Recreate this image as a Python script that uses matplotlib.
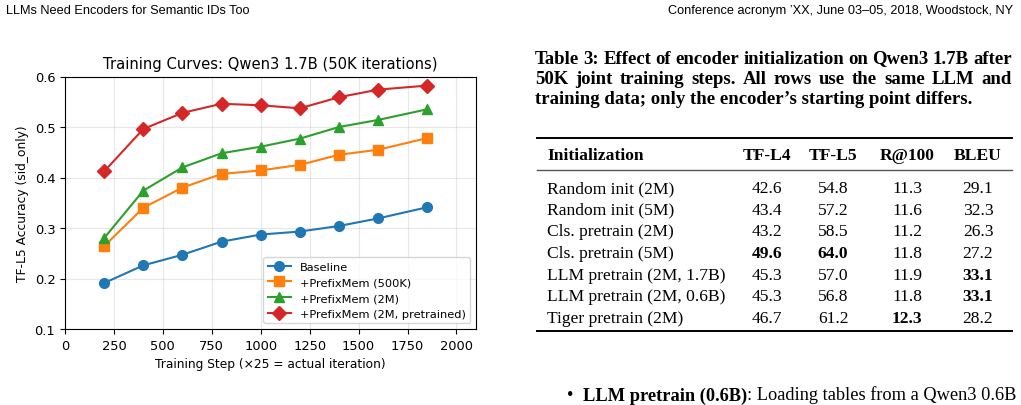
import matplotlib
matplotlib.use("Agg")
import matplotlib.pyplot as plt
from matplotlib.lines import Line2D

# training curves (TF-L5 accuracy, sid_only)
steps = [200, 400, 600, 800, 1000, 1200, 1400, 1600, 1850]
baseline = [0.191, 0.226, 0.247, 0.273, 0.287, 0.293, 0.304, 0.319, 0.341]
prefix_500k = [0.264, 0.340, 0.380, 0.407, 0.414, 0.425, 0.445, 0.455, 0.478]
prefix_2m = [0.280, 0.374, 0.420, 0.448, 0.461, 0.477, 0.500, 0.514, 0.535]
prefix_2m_pre = [0.412, 0.496, 0.528, 0.546, 0.543, 0.537, 0.559, 0.574, 0.582]
series_labels = ["Baseline", "+PrefixMem (500K)", "+PrefixMem (2M)",
                 "+PrefixMem (2M, pretrained)"]

# table 3
table_header = ["Initialization", "TF-L4", "TF-L5", "R@100", "BLEU"]
init_names = ["Random init (2M)", "Random init (5M)", "Cls. pretrain (2M)",
              "Cls. pretrain (5M)", "LLM pretrain (2M, 1.7B)",
              "LLM pretrain (2M, 0.6B)", "Tiger pretrain (2M)"]
tf_l4 = ["42.6", "43.4", "43.2", "49.6", "45.3", "45.3", "46.7"]
tf_l5 = ["54.8", "57.2", "58.5", "64.0", "57.0", "56.8", "61.2"]
r_at_100 = ["11.3", "11.6", "11.2", "11.8", "11.9", "11.8", "12.3"]
bleu = ["29.1", "32.3", "26.3", "27.2", "33.1", "33.1", "28.2"]
bold_cells = {(3, 0), (3, 1), (4, 3), (5, 3), (6, 2)}  # (row, metric col)

caption_lines = [
    "Table 3: Effect of encoder initialization on Qwen3 1.7B after",
    "50K joint training steps. All rows use the same LLM and",
    "training data; only the encoder\u2019s starting point differs.",
]
left_header = "LLMs Need Encoders for Semantic IDs Too"
right_header = "Conference acronym \u2019XX, June 03\u201305, 2018, Woodstock, NY"

W, H = 1021, 406
SERIF = "Liberation Serif"
SANS = "Liberation Sans"


def fx(x):
    return x / W


def fy(y):
    return 1 - y / H


fig = plt.figure(figsize=(W / 100, H / 100), dpi=100)

# ---- chart ----
ax = fig.add_axes([fx(65), fy(330), 411 / W, 252.5 / H])
for ys, mk, lab in zip([baseline, prefix_500k, prefix_2m, prefix_2m_pre],
                       ["o", "s", "^", "D"], series_labels):
    ax.plot(steps, ys, marker=mk, markersize=7, linewidth=1.5, label=lab)
ax.set_xlim(0, 2100)
ax.set_ylim(0.1, 0.6)
ax.set_xticks(range(0, 2001, 250))
ax.tick_params(labelsize=9.4)
ax.grid(alpha=0.3)
ax.set_title("Training Curves: Qwen3 1.7B (50K iterations)", fontsize=10.6)
ax.set_xlabel("Training Step (\u00d725 = actual iteration)", fontsize=8.8)
ax.set_ylabel("TF-L5 Accuracy (sid_only)", fontsize=8.8)
ax.legend(loc="lower right", fontsize=8.2)

# ---- page headers ----
fig.text(fx(6), fy(11), left_header, fontsize=9.2, va="center", family=SANS)
fig.text(fx(1013), fy(11), right_header, fontsize=9.2, va="center",
         ha="right", family=SANS)

# ---- caption, justified ----
renderer = fig.canvas.get_renderer()
cap_fs = 13.5


def justified(line, y, x0, x1):
    words = line.split()
    texts = [fig.text(0, fy(y), w, fontsize=cap_fs, weight="bold",
                      family=SERIF, va="baseline") for w in words]
    widths = [t.get_window_extent(renderer).width for t in texts]
    gap = (x1 - x0 - sum(widths)) / (len(words) - 1)
    x = x0
    for t, w in zip(texts, widths):
        t.set_x(fx(x))
        x += w + gap


cap_y = [63.5, 84, 104.5]
justified(caption_lines[0], cap_y[0], 535, 1012)
justified(caption_lines[1], cap_y[1], 535, 1012)
fig.text(fx(535), fy(cap_y[2]), caption_lines[2], fontsize=cap_fs,
         weight="bold", family=SERIF, va="baseline")

# ---- table ----
rule_x = [fx(537), fx(1012)]
fig.add_artist(Line2D(rule_x, [fy(139)] * 2, color="black", lw=1.4))
fig.add_artist(Line2D(rule_x, [fy(170.5)] * 2, color="#555555", lw=1.0))
fig.add_artist(Line2D(rule_x, [fy(332)] * 2, color="black", lw=1.4))

col_x = [547, 767, 833, 907, 978]
fs = 12.6
fig.text(fx(col_x[0]), fy(160), table_header[0], fontsize=fs, weight="bold",
         family=SERIF, va="baseline")
for cx, h in zip(col_x[1:], table_header[1:]):
    fig.text(fx(cx), fy(160), h, fontsize=fs, weight="bold", family=SERIF,
             va="baseline", ha="center")

row_y = [193, 214.7, 236.3, 258, 279.7, 301.3, 323]
for i, ry in enumerate(row_y):
    fig.text(fx(col_x[0]), fy(ry), init_names[i], fontsize=fs, family=SERIF,
             va="baseline")
    for j, col in enumerate([tf_l4, tf_l5, r_at_100, bleu]):
        fig.text(fx(col_x[j + 1]), fy(ry), col[i], fontsize=fs, family=SERIF,
                 va="baseline", ha="center",
                 weight="bold" if (i, j) in bold_cells else "normal")

# ---- start of body text (near page bottom) ----
body_fs = 13.2
body_y = 400.5
fig.text(fx(567), fy(body_y), "\u2022", fontsize=body_fs, family=SERIF,
         va="baseline")
t_bold = fig.text(fx(583), fy(body_y), "LLM pretrain (0.6B)", fontsize=body_fs,
                  family=SERIF, weight="bold", va="baseline")
bold_w = t_bold.get_window_extent(renderer).width
fig.text(fx(583 + bold_w), fy(body_y), ": Loading tables from a Qwen3 0.6B",
         fontsize=body_fs, family=SERIF, va="baseline")

fig.savefig("out.png", dpi=100)
